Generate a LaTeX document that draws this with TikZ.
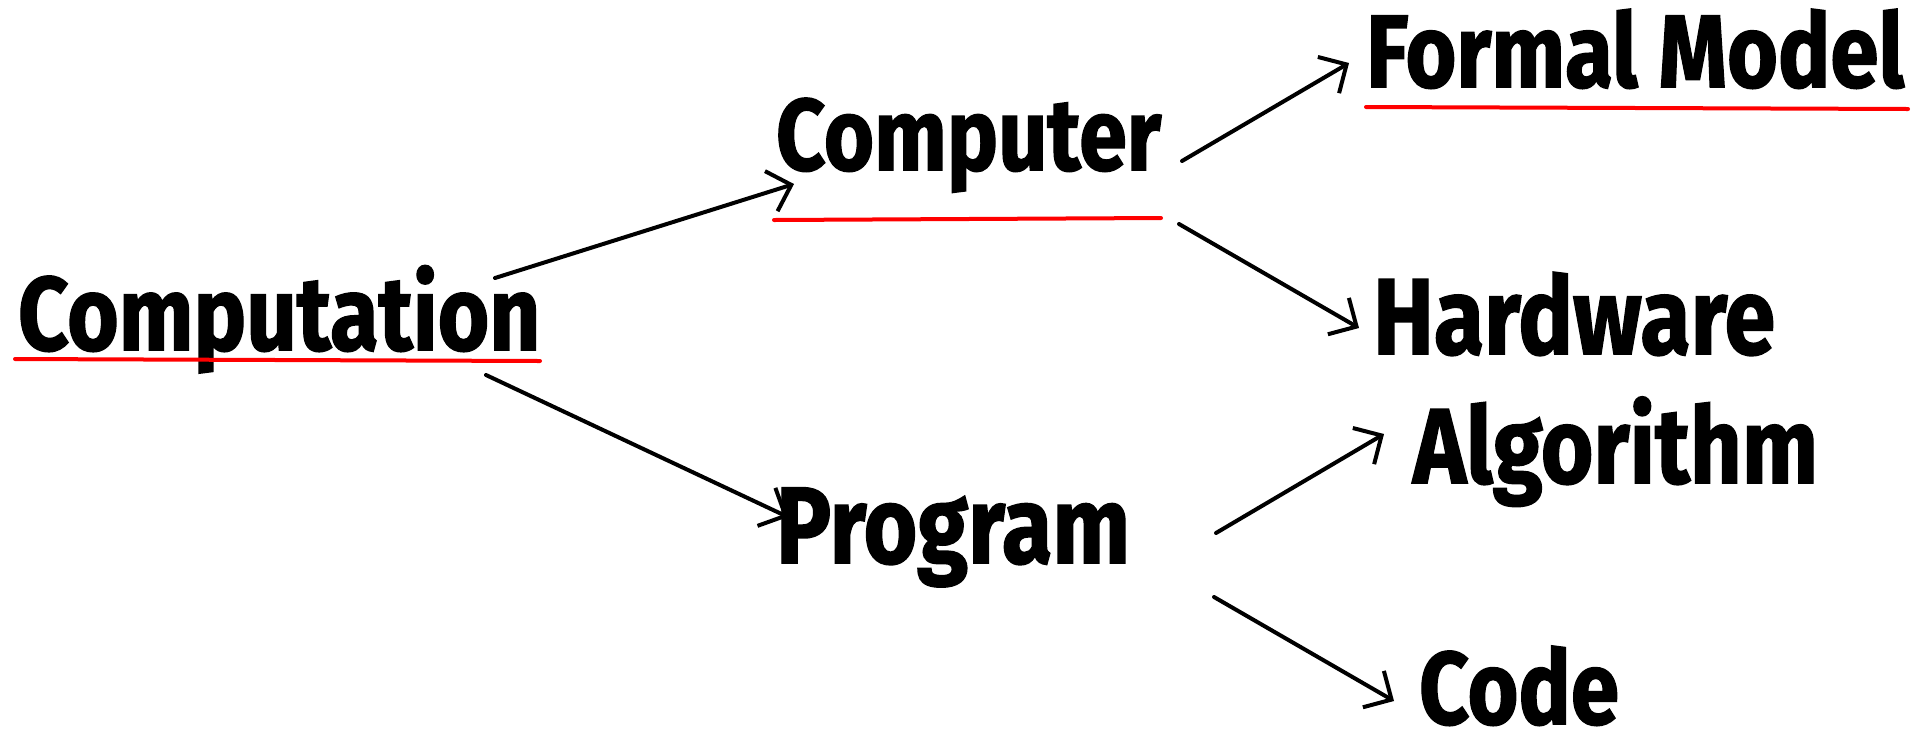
\documentclass[tikz,border=0pt]{standalone}
\usepackage{fontspec}
\setmainfont{Fira Sans}[BoldFeatures={FakeBold=1.5}]
\usetikzlibrary{arrows.meta,calc}
\newcommand{\hwtext}[2]{\resizebox{#1pt}{!}{\scalebox{1}[1.18]{\bfseries #2}}}
\begin{document}
\begin{tikzpicture}[x=1pt,y=-1pt,
  lbl/.style={inner sep=0pt,outer sep=0pt,anchor=base west},
  conn/.style={line width=4pt,line cap=round,-{Straight Barb[length=21pt,width=42pt,line width=4pt]}},
  under/.style={red,line width=4pt,line cap=round}]
\useasboundingbox (0,0) rectangle (1926,748);
\fill[white] (0,0) rectangle (1926,748);
% labels
\node[lbl] (cmp) at (18,350) {\hwtext{522}{Computation}};
\node[lbl] (cpu) at (776,170) {\hwtext{385}{Computer}};
\node[lbl] (fm) at (1366,87) {\hwtext{538}{Formal Model}};
\node[lbl] (hw) at (1373,354) {\hwtext{402}{Hardware}};
\node[lbl] (alg) at (1413,483) {\hwtext{405}{Algorithm}};
\node[lbl] (prg) at (776,563) {\hwtext{354}{Program}};
\node[lbl] (code) at (1419,724) {\hwtext{200}{Code}};
% underlines
\draw[under] (15,359) coordinate (u1a) -- (540,361) coordinate (u1b);
\draw[under] (774,220) coordinate (u2a) -- (1161,218) coordinate (u2b);
\draw[under] (1366,107) coordinate (u3a) -- (1908,109) coordinate (u3b);
% connector end points
\coordinate (a1s) at (495,278); \coordinate (a1e) at (794,184);
\coordinate (a2s) at (486,375); \coordinate (a2e) at (788,517);
\coordinate (a3s) at (1182,161); \coordinate (a3e) at (1349,63);
\coordinate (a4s) at (1179,224); \coordinate (a4e) at (1359,328);
\coordinate (a5s) at (1216,533); \coordinate (a5e) at (1384,434);
\coordinate (a6s) at (1214,597); \coordinate (a6e) at (1394,701);
\draw[conn] (a1s) -- (a1e);
\draw[conn] (a2s) -- (a2e);
\draw[conn] (a3s) -- (a3e);
\draw[conn] (a4s) -- (a4e);
\draw[conn] (a5s) -- (a5e);
\draw[conn] (a6s) -- (a6e);
\end{tikzpicture}
\end{document}
